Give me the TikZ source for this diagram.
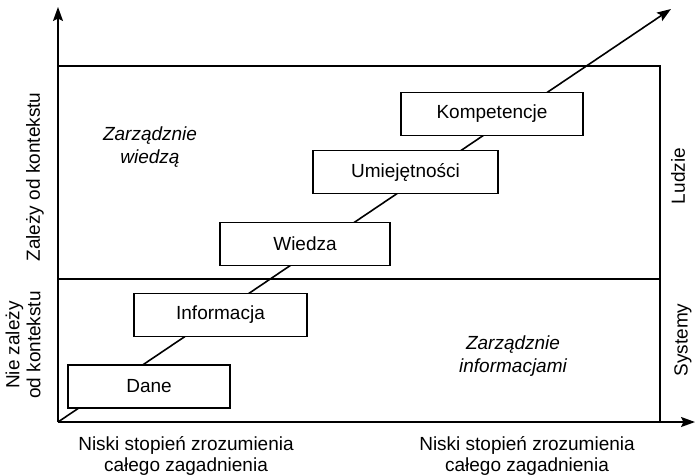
\documentclass[tikz,border=0pt]{standalone}
\usepackage{fontspec}
\setmainfont{Liberation Sans}
\usetikzlibrary{arrows.meta}
\begin{document}
\begin{tikzpicture}[x=1pt,y=-1pt,
  lvl/.style={draw,line width=1.5pt,fill=white,minimum height=43pt,inner sep=0pt,font=\fontsize{19}{22}\selectfont},
  lbl/.style={font=\fontsize{19}{21}\selectfont,align=center,inner sep=0pt},
  area/.style={font=\fontsize{19}{23}\selectfont\itshape,align=center,inner sep=0pt},
  axis/.style={line width=1.9pt,-{Stealth[length=14pt,width=10pt,inset=2.5pt]}},
  frame/.style={line width=1.9pt}]
\useasboundingbox (0,0) rectangle (695,475);
\coordinate (o) at (58,422);
\coordinate (ytip) at (58,7);
\coordinate (xtip) at (695,422);
\coordinate (dtip) at (671,9);
% frame
\draw[frame] (58,66) -- (660,66) -- (660,422);
\draw[frame] (58,279) -- (660,279);
% axes
\draw[axis] (o) -- (ytip);
\draw[axis] (o) -- (xtip);
% diagonal
\draw[axis,line width=1.6pt] (o) -- (dtip);
% boxes
\node[lvl,minimum width=162pt] (dane) at (149,386.5) {Dane};
\node[lvl,minimum width=173pt] (info) at (220.5,315) {Informacja};
\node[lvl,minimum width=170pt] (wiedza) at (305,244) {Wiedza};
\node[lvl,minimum width=185pt] (umiej) at (405.5,172) {Umiejętności};
\node[lvl,minimum width=182pt] (komp) at (492,114) {Kompetencje};
% area labels
\node[area] (zw) at (150,147) {Zarządznie\\wiedzą};
\node[area] (zi) at (513,356) {Zarządznie\\informacjami};
% side labels
\node[lbl,rotate=90] (zal) at (35,177) {Zależy od kontekstu};
\node[lbl,rotate=90] (niezal) at (23,345) {Nie zależy\\od kontekstu};
\node[lbl,rotate=90] (ludzie) at (678,176) {Ludzie};
\node[lbl,rotate=90] (syst) at (683,340) {Systemy};
% bottom labels
\node[lbl] (b1) at (186,456) {Niski stopień zrozumienia\\całego zagadnienia};
\node[lbl] (b2) at (527,456) {Niski stopień zrozumienia\\całego zagadnienia};
\end{tikzpicture}
\end{document}
